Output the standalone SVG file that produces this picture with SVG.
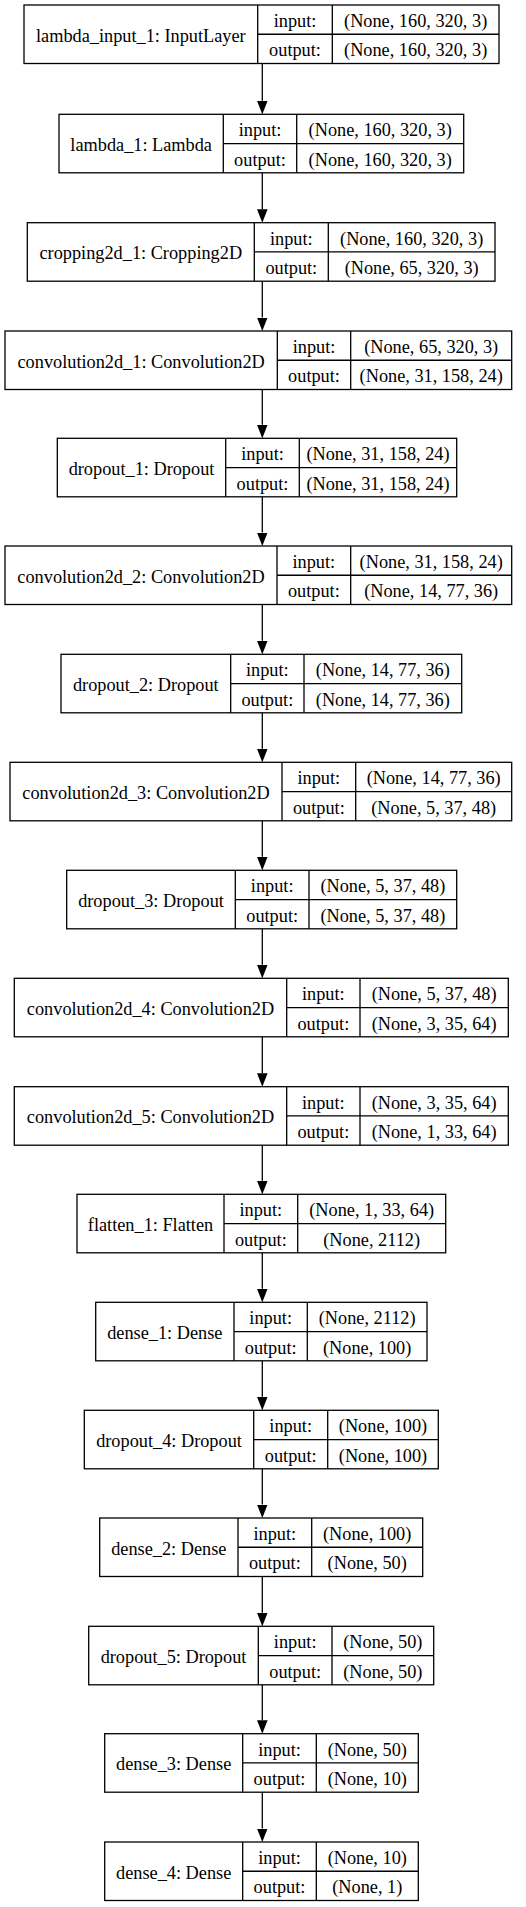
<svg xmlns="http://www.w3.org/2000/svg" width="526" height="1907" viewBox="0 0 526 1907">
<style>
.box{fill:#fff;stroke:#000;stroke-width:1.3}
.div{fill:none;stroke:#000;stroke-width:1.3}
text{font-family:"Liberation Serif","Times New Roman",serif;font-size:18.3px;fill:#000;text-anchor:middle}
.edge{fill:none;stroke:#000;stroke-width:1.3}
</style>
<defs>
<marker id="ah" markerUnits="userSpaceOnUse" viewBox="0 0 13.5 10.6" refX="0" refY="5.3" markerWidth="13.5" markerHeight="10.6" orient="auto">
<path d="M0 0L13.5 5.3L0 10.6z" fill="#000"/>
</marker>
</defs>
<rect width="526" height="1907" fill="#fff"/>
<g id="edges">
<path class="edge" marker-end="url(#ah)" d="M262.3 63.5V100.8"/>
<path class="edge" marker-end="url(#ah)" d="M262.3 172.8V209.2"/>
<path class="edge" marker-end="url(#ah)" d="M262.3 281.2V317.5"/>
<path class="edge" marker-end="url(#ah)" d="M262.3 389.5V424.8"/>
<path class="edge" marker-end="url(#ah)" d="M262.3 496.8V532.5"/>
<path class="edge" marker-end="url(#ah)" d="M262.3 604.5V640.8"/>
<path class="edge" marker-end="url(#ah)" d="M262.3 712.8V748.8"/>
<path class="edge" marker-end="url(#ah)" d="M262.3 820.8V856.8"/>
<path class="edge" marker-end="url(#ah)" d="M262.3 928.8V964.8"/>
<path class="edge" marker-end="url(#ah)" d="M262.3 1036.8V1073.2"/>
<path class="edge" marker-end="url(#ah)" d="M262.3 1145.2V1180.8"/>
<path class="edge" marker-end="url(#ah)" d="M262.3 1252.8V1288.8"/>
<path class="edge" marker-end="url(#ah)" d="M262.3 1360.8V1396.8"/>
<path class="edge" marker-end="url(#ah)" d="M262.3 1468.8V1504.5"/>
<path class="edge" marker-end="url(#ah)" d="M262.3 1576.5V1612.8"/>
<path class="edge" marker-end="url(#ah)" d="M262.3 1684.8V1720.2"/>
<path class="edge" marker-end="url(#ah)" d="M262.3 1792.2V1828.5"/>
</g>
<g id="lambda_input_1">
<rect class="box" x="24" y="5" width="475" height="58.5"/>
<path class="div" d="M257.7 5V63.5M332.3 5V63.5M257.7 34.25H499"/>
<text x="140.85" y="41.75">lambda_input_1: InputLayer</text>
<text x="295" y="27.1">input:</text><text x="295" y="56.2">output:</text>
<text x="415.65" y="27.1">(None, 160, 320, 3)</text><text x="415.65" y="56.2">(None, 160, 320, 3)</text>
</g>
<g id="lambda_1">
<rect class="box" x="59" y="114.3" width="404.7" height="58.5"/>
<path class="div" d="M223.3 114.3V172.8M296.7 114.3V172.8M223.3 143.55H463.7"/>
<text x="141.15" y="151.05">lambda_1: Lambda</text>
<text x="260" y="136.4">input:</text><text x="260" y="165.5">output:</text>
<text x="380.2" y="136.4">(None, 160, 320, 3)</text><text x="380.2" y="165.5">(None, 160, 320, 3)</text>
</g>
<g id="cropping2d_1">
<rect class="box" x="27.3" y="222.7" width="467.7" height="58.5"/>
<path class="div" d="M254.3 222.7V281.2M328.3 222.7V281.2M254.3 251.95H495"/>
<text x="140.8" y="259.45">cropping2d_1: Cropping2D</text>
<text x="291.3" y="244.8">input:</text><text x="291.3" y="273.9">output:</text>
<text x="411.65" y="244.8">(None, 160, 320, 3)</text><text x="411.65" y="273.9">(None, 65, 320, 3)</text>
</g>
<g id="convolution2d_1">
<rect class="box" x="5" y="331" width="506.7" height="58.5"/>
<path class="div" d="M277.3 331V389.5M350.7 331V389.5M277.3 360.25H511.7"/>
<text x="141.15" y="367.75">convolution2d_1: Convolution2D</text>
<text x="314" y="353.1">input:</text><text x="314" y="382.2">output:</text>
<text x="431.2" y="353.1">(None, 65, 320, 3)</text><text x="431.2" y="382.2">(None, 31, 158, 24)</text>
</g>
<g id="dropout_1">
<rect class="box" x="57.3" y="438.3" width="399.4" height="58.5"/>
<path class="div" d="M225.7 438.3V496.8M299.3 438.3V496.8M225.7 467.55H456.7"/>
<text x="141.5" y="475.05">dropout_1: Dropout</text>
<text x="262.5" y="460.4">input:</text><text x="262.5" y="489.5">output:</text>
<text x="378" y="460.4">(None, 31, 158, 24)</text><text x="378" y="489.5">(None, 31, 158, 24)</text>
</g>
<g id="convolution2d_2">
<rect class="box" x="5" y="546" width="506.7" height="58.5"/>
<path class="div" d="M277 546V604.5M350.7 546V604.5M277 575.25H511.7"/>
<text x="141" y="582.75">convolution2d_2: Convolution2D</text>
<text x="313.85" y="568.1">input:</text><text x="313.85" y="597.2">output:</text>
<text x="431.2" y="568.1">(None, 31, 158, 24)</text><text x="431.2" y="597.2">(None, 14, 77, 36)</text>
</g>
<g id="dropout_2">
<rect class="box" x="61" y="654.3" width="400.7" height="58.5"/>
<path class="div" d="M230.7 654.3V712.8M304 654.3V712.8M230.7 683.55H461.7"/>
<text x="145.85" y="691.05">dropout_2: Dropout</text>
<text x="267.35" y="676.4">input:</text><text x="267.35" y="705.5">output:</text>
<text x="382.85" y="676.4">(None, 14, 77, 36)</text><text x="382.85" y="705.5">(None, 14, 77, 36)</text>
</g>
<g id="convolution2d_3">
<rect class="box" x="10" y="762.3" width="501.7" height="58.5"/>
<path class="div" d="M282 762.3V820.8M355.7 762.3V820.8M282 791.55H511.7"/>
<text x="146" y="799.05">convolution2d_3: Convolution2D</text>
<text x="318.85" y="784.4">input:</text><text x="318.85" y="813.5">output:</text>
<text x="433.7" y="784.4">(None, 14, 77, 36)</text><text x="433.7" y="813.5">(None, 5, 37, 48)</text>
</g>
<g id="dropout_3">
<rect class="box" x="66.7" y="870.3" width="390" height="58.5"/>
<path class="div" d="M235.3 870.3V928.8M309 870.3V928.8M235.3 899.55H456.7"/>
<text x="151" y="907.05">dropout_3: Dropout</text>
<text x="272.15" y="892.4">input:</text><text x="272.15" y="921.5">output:</text>
<text x="382.85" y="892.4">(None, 5, 37, 48)</text><text x="382.85" y="921.5">(None, 5, 37, 48)</text>
</g>
<g id="convolution2d_4">
<rect class="box" x="14.3" y="978.3" width="494" height="58.5"/>
<path class="div" d="M286.7 978.3V1036.8M360 978.3V1036.8M286.7 1007.55H508.3"/>
<text x="150.5" y="1015.05">convolution2d_4: Convolution2D</text>
<text x="323.35" y="1000.4">input:</text><text x="323.35" y="1029.5">output:</text>
<text x="434.15" y="1000.4">(None, 5, 37, 48)</text><text x="434.15" y="1029.5">(None, 3, 35, 64)</text>
</g>
<g id="convolution2d_5">
<rect class="box" x="14.3" y="1086.7" width="494" height="58.5"/>
<path class="div" d="M286.7 1086.7V1145.2M360 1086.7V1145.2M286.7 1115.95H508.3"/>
<text x="150.5" y="1123.45">convolution2d_5: Convolution2D</text>
<text x="323.35" y="1108.8">input:</text><text x="323.35" y="1137.9">output:</text>
<text x="434.15" y="1108.8">(None, 3, 35, 64)</text><text x="434.15" y="1137.9">(None, 1, 33, 64)</text>
</g>
<g id="flatten_1">
<rect class="box" x="77" y="1194.3" width="368.7" height="58.5"/>
<path class="div" d="M224 1194.3V1252.8M297.7 1194.3V1252.8M224 1223.55H445.7"/>
<text x="150.5" y="1231.05">flatten_1: Flatten</text>
<text x="260.85" y="1216.4">input:</text><text x="260.85" y="1245.5">output:</text>
<text x="371.7" y="1216.4">(None, 1, 33, 64)</text><text x="371.7" y="1245.5">(None, 2112)</text>
</g>
<g id="dense_1">
<rect class="box" x="95.7" y="1302.3" width="331.3" height="58.5"/>
<path class="div" d="M234 1302.3V1360.8M307.3 1302.3V1360.8M234 1331.55H427"/>
<text x="164.85" y="1339.05">dense_1: Dense</text>
<text x="270.65" y="1324.4">input:</text><text x="270.65" y="1353.5">output:</text>
<text x="367.15" y="1324.4">(None, 2112)</text><text x="367.15" y="1353.5">(None, 100)</text>
</g>
<g id="dropout_4">
<rect class="box" x="84.3" y="1410.3" width="354" height="58.5"/>
<path class="div" d="M253.7 1410.3V1468.8M327.7 1410.3V1468.8M253.7 1439.55H438.3"/>
<text x="169" y="1447.05">dropout_4: Dropout</text>
<text x="290.7" y="1432.4">input:</text><text x="290.7" y="1461.5">output:</text>
<text x="383" y="1432.4">(None, 100)</text><text x="383" y="1461.5">(None, 100)</text>
</g>
<g id="dense_2">
<rect class="box" x="99.7" y="1518" width="323" height="58.5"/>
<path class="div" d="M238 1518V1576.5M311.7 1518V1576.5M238 1547.25H422.7"/>
<text x="168.85" y="1554.75">dense_2: Dense</text>
<text x="274.85" y="1540.1">input:</text><text x="274.85" y="1569.2">output:</text>
<text x="367.2" y="1540.1">(None, 100)</text><text x="367.2" y="1569.2">(None, 50)</text>
</g>
<g id="dropout_5">
<rect class="box" x="88.7" y="1626.3" width="345" height="58.5"/>
<path class="div" d="M258.3 1626.3V1684.8M332 1626.3V1684.8M258.3 1655.55H433.7"/>
<text x="173.5" y="1663.05">dropout_5: Dropout</text>
<text x="295.15" y="1648.4">input:</text><text x="295.15" y="1677.5">output:</text>
<text x="382.85" y="1648.4">(None, 50)</text><text x="382.85" y="1677.5">(None, 50)</text>
</g>
<g id="dense_3">
<rect class="box" x="104.7" y="1733.7" width="313.6" height="58.5"/>
<path class="div" d="M242.7 1733.7V1792.2M316.3 1733.7V1792.2M242.7 1762.95H418.3"/>
<text x="173.7" y="1770.45">dense_3: Dense</text>
<text x="279.5" y="1755.8">input:</text><text x="279.5" y="1784.9">output:</text>
<text x="367.3" y="1755.8">(None, 50)</text><text x="367.3" y="1784.9">(None, 10)</text>
</g>
<g id="dense_4">
<rect class="box" x="104.7" y="1842" width="313.6" height="58.5"/>
<path class="div" d="M242.7 1842V1900.5M316.3 1842V1900.5M242.7 1871.25H418.3"/>
<text x="173.7" y="1878.75">dense_4: Dense</text>
<text x="279.5" y="1864.1">input:</text><text x="279.5" y="1893.2">output:</text>
<text x="367.3" y="1864.1">(None, 10)</text><text x="367.3" y="1893.2">(None, 1)</text>
</g>
</svg>
